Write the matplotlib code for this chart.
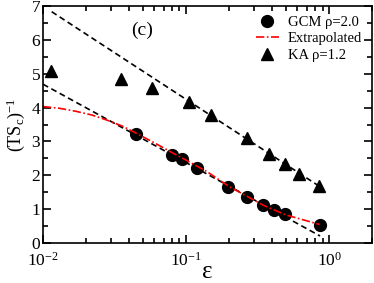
import numpy as np
import matplotlib
matplotlib.use('Agg')
import matplotlib.pyplot as plt
from matplotlib.ticker import LogLocator, NullFormatter, MultipleLocator

plt.rcParams['font.family'] = ['Liberation Serif', 'DejaVu Serif']
plt.rcParams['mathtext.fontset'] = 'stix'

# GCM rho=2.0 data
gcm_eps = [0.0447, 0.080, 0.093, 0.119, 0.195, 0.267, 0.344, 0.412, 0.492, 0.865]
gcm_val = [3.21, 2.60, 2.47, 2.21, 1.67, 1.37, 1.12, 0.98, 0.85, 0.53]

# KA rho=1.2 data
ka_eps = [0.0114, 0.0349, 0.0578, 0.105, 0.150, 0.265, 0.383, 0.488, 0.617, 0.851]
ka_val = [5.08, 4.85, 4.59, 4.17, 3.78, 3.11, 2.63, 2.32, 2.04, 1.69]

# extrapolated curve
ext_eps = [0.01, 0.013, 0.017, 0.022, 0.028, 0.036, 0.045, 0.06, 0.08, 0.1,
           0.14, 0.2, 0.27, 0.35, 0.5, 0.86]
ext_val = [4.03, 3.98, 3.89, 3.78, 3.63, 3.45, 3.24, 2.96, 2.67, 2.45,
           2.11, 1.67, 1.37, 1.11, 0.83, 0.55]

# straight-line fits
fit_ka_eps = [0.0115, 0.86]
fit_ka_val = [6.83, 1.67]
fit_gcm_eps = [0.01, 0.865]
fit_gcm_val = [4.69, 0.21]

fig = plt.figure(figsize=(3.74, 2.83), dpi=100)
ax = fig.add_axes([0.115, 0.141, 0.880, 0.838])

ax.plot(fit_ka_eps, fit_ka_val, color='black', lw=1.2, linestyle=(0, (3.5, 2.2)))
ax.plot(fit_gcm_eps, fit_gcm_val, color='black', lw=1.2, linestyle=(0, (3.5, 2.2)))
ax.plot(gcm_eps, gcm_val, 'o', color='black', ms=8.5, label='GCM ρ=2.0')
ax.plot(ext_eps, ext_val, color='red', lw=1.2, linestyle=(0, (5, 1.5, 1, 1.5)),
        label='Extrapolated')
ax.plot(ka_eps, ka_val, '^', color='black', ms=9, label='KA ρ=1.2')

ax.set_xscale('log')
ax.set_xlim(0.01, 2.0)
ax.set_ylim(0, 7)
ax.yaxis.set_major_locator(MultipleLocator(1))
ax.yaxis.set_minor_locator(MultipleLocator(0.5))
ax.xaxis.set_major_locator(LogLocator(base=10, numticks=10))
ax.xaxis.set_minor_locator(LogLocator(base=10, subs=np.arange(2, 10), numticks=20))
ax.xaxis.set_minor_formatter(NullFormatter())

ax.tick_params(which='both', direction='in', top=True, right=True, labelsize=12.5)
ax.tick_params(which='major', length=6, width=1.2)
ax.tick_params(which='minor', length=3.5, width=1.2)
ax.tick_params(axis='x', pad=6)
ax.tick_params(axis='y', pad=2)
for s in ax.spines.values():
    s.set_linewidth(1.2)

ax.set_xlabel('ε', fontsize=18, labelpad=-6)
ax.set_ylabel(r'$\mathregular{(TS_c)^{-1}}$', fontsize=13, labelpad=3)

ax.text(0.041, 6.15, '(c)', fontsize=14)

ax.legend(loc='upper right', frameon=False, fontsize=10.5, handlelength=1.6,
          handletextpad=0.6, labelspacing=0.2, borderaxespad=0.3)

fig.savefig('out.png', dpi=100)
